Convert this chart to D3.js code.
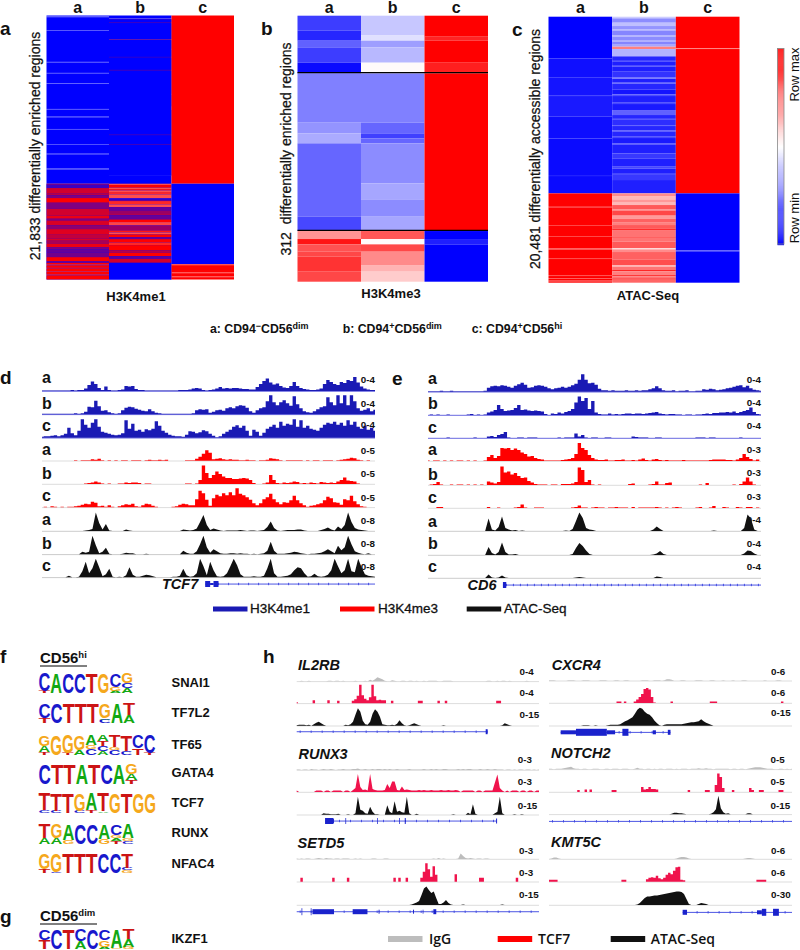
<!DOCTYPE html>
<html>
<head>
<meta charset="utf-8">
<script src="https://cdn.jsdelivr.net/npm/d3@7"></script>
<style>
html, body { margin: 0; padding: 0; background: #fff; overflow: hidden; }
text { font-family: "Liberation Sans", Arial, sans-serif; fill: #111; }
</style>
</head>
<body>
<script>
// heatmap rows: [first row, value]; value -1 = row min, 1 = row max
let hmA_a = [[0,-1],[3,-.75],[5,-1],[44,-.8],[46,-1],[139,-.8],[141,-1],[172,-.85],[174,-1],[203,-.75],[205,-1],[280,-.75],[282,-1],[303,-.85],[305,-1],[340,-.8],[342,-1],[385,-.8],[387,-1],[414,-.85],[416,-1],[458,-.85],[462,-1]];
let hmA_b = [[0,-1],[8,-.8],[10,-1],[72,-.7],[74,-1],[100,-.7],[102,-1],[235,-.6],[237,-1],[273,-.6],[283,-1],[480,-1]];
let hmA_bMixTop = [[10,.35],[12,0],[21,.45],[23,0],[71,.55],[73,0],[124,.45],[126,0],[163,.6],[165,0],[357,.5],[359,0],[385,.55],[387,0]];
let hmA_c = [[0,1],[504,-1],[745,.75],[748,1],[770,.8],[772,1],[782,.8],[784,1]];
// blended rows: 0 blue, 1 red, 2 pale red
let hmA_aMix = [[504,.75],[507,.25],[517,.82],[534,.72],[539,.5],[547,1],[561,.5],[579,.82],[599,.92],[609,.5],[614,.85],[629,.55],[640,.88],[657,.76],[669,.85],[675,.65],[683,.92],[694,.5],[701,.4],[711,.45],[724,1],[737,.3],[741,1]];
let hmA_bMix = [[504,1.4],[508,1],[516,1.4],[520,1.1],[524,1.4],[529,1.2],[536,1.4],[548,.15],[552,.4],[556,1.2],[566,1.4],[574,.4],[584,.6],[592,.68],[599,.4],[611,1],[619,1.35],[629,.6],[644,1.1],[650,1.4],[656,1],[664,.4],[670,1],[680,1.2],[688,1.0],[704,.7],[711,1],[721,.35],[729,.82],[741,0]];
let hmA_aTail = [[741,1],[746,1.3],[749,1],[756,1.3],[758,1],[766,1.3],[768,1],[776,1.3],[779,1]];

let hmB_a = [[0,-.76],[45,-.85],[75,-.62],[95,-.76],[141,-.96],[173,-.5],[321,-.42],[353,-.33],[383,-.6],[603,-.72],[646,.42],[670,.92],[686,.68],[708,.72],[723,.8],[768,.72]];
let hmB_b = [[0,-.22],[58,-.12],[75,-.38],[95,-.28],[141,.02],[173,-.5],[321,-.6],[353,-.75],[368,-.6],[383,-.45],[503,-.35],[551,-.45],[603,-.35],[646,.66],[670,.02],[686,.72],[708,.46],[748,.3],[768,.2]];
let hmB_c = [[0,1],[63,.86],[75,1],[141,.88],[173,1],[646,-1],[670,-.88],[686,-1]];

let hmC_a = [[0,-1],[125,-.94],[181,-1],[183,-.92],[236,-.95],[238,-.9],[300,-.95],[364,-.9],[366,-.96],[475,-.9],[478,-.96],[530,1],[568,.82],[572,1],[625,.9],[627,1],[658,.88],[660,1],[695,.75],[699,1],[725,.9],[727,1],[775,.7],[778,1],[784,.7],[786,1],[792,.7],[794,1]];
let hmC_b = [[0,-.2],[5,-.45],[18,-.25],[28,-.42],[38,-.32],[42,-.48],[55,-.3],[60,-.45],[70,-.32],[75,-.48],[84,-.35],[90,.5],[97,-.3],[119,-.85],[130,-.75],[134,-.88],[145,-.72],[150,-.88],[165,-.8],[183,-.5],[186,-.88],[198,-.62],[201,-.85],[218,-.92],[233,-.7],[238,-.88],[258,-.72],[262,-.9],[280,-.62],[295,-.85],[305,-.97],[308,-.82],[325,-.62],[328,-.85],[340,-.6],[344,-.85],[360,-.72],[364,-.9],[380,-.75],[384,-.88],[410,-.78],[425,-.88],[450,-.72],[456,-.88],[470,-.95],[474,-.78],[490,-.88],[530,.45],[538,.28],[548,.4],[558,.28],[565,.65],[578,.5],[582,.72],[596,.55],[600,.4],[606,.62],[618,.5],[625,.65],[635,.82],[640,.55],[660,.92],[663,.55],[675,.65],[695,.1],[698,.45],[706,.62],[728,.7],[745,.3],[750,.55],[760,.88],[764,.5],[775,.8],[779,.55],[785,.9],[789,.6]];
let hmC_c = [[0,1],[94,.5],[97,1],[530,-1],[701,-.72],[704,-1]];

let hmLetters = ['a', 'b', 'c'];
let hmTitles = ['H3K4me1', 'H3K4me3', 'ATAC-Seq'];
let hmLabels = ['21,833 differentially enriched regions', '312\u00a0\u00a0differentially enriched regions', '20,481 differentially accessible regions'];

// browser tracks, one signal value per genome bin
let dBlueA = [1,1,1,1,1,1,1,1,1,2, 1,2,2,5,12,19,14,6,2,9, 2,1,1,2,3,10,9,10,4,2, 2,1,1,1,1,1,1,1,1,1, 1,2,2,2,3,5,6,5,2,1, 2,3,5,8,5,6,5,6,6,5, 4,4,3,3,8,14,20,25,17,13, 15,10,7,6,10,18,10,6,4,3, 2,2,3,5,14,22,18,14,12,18, 16,22,20,28,17,9,5,3,2,2];
let dBlueB = [1,1,1,1,1,1,1,1,1,1, 2,1,2,5,15,14,27,16,7,8, 4,2,1,2,8,13,15,14,11,9, 7,6,10,6,3,2,1,1,1,1, 1,1,1,1,1,2,8,10,9,10, 3,5,8,9,7,12,14,12,16,18, 17,13,6,3,8,12,14,26,38,24, 18,24,28,22,17,36,20,12,6,4, 3,6,10,14,16,34,24,18,38,22, 38,18,38,26,12,7,9,12,6,9];
let dBlueC = [2,3,3,4,5,3,5,8,20,9, 5,14,37,26,20,30,37,22,12,10, 8,6,5,6,9,35,18,28,14,16, 12,17,15,18,33,24,14,10,6,4, 3,3,2,6,13,12,9,11,15,13, 8,4,1,3,8,12,16,22,25,20, 24,14,4,16,12,4,10,18,22,26, 20,32,24,28,26,37,22,35,20,24, 18,16,14,20,26,30,28,32,26,30, 24,35,26,32,22,18,24,16,20,14];
let dRedA = [0,0,0,0,0,0,0,0,0,0, 1,0,1,1,1,3,2,4,1,0, 1,0,1,0,1,1,0,1,1,1, 0,1,2,1,1,2,1,2,0,0, 0,0,0,1,1,1,4,8,14,21, 16,3,4,5,3,2,3,2,2,1, 1,2,1,1,0,1,1,2,5,4, 3,1,0,1,1,1,1,1,0,1, 0,1,1,0,1,1,1,0,1,2, 3,4,6,5,2,1,0,1,0,0];
let dRedB = [0,0,0,0,0,0,0,0,0,0, 0,0,0,1,2,3,5,3,1,0, 1,0,0,1,1,3,2,3,3,2, 0,1,1,0,0,0,0,0,0,0, 0,0,0,1,1,0,1,8,37,22, 12,18,25,20,15,12,12,10,10,11, 12,11,8,2,0,0,1,3,18,8, 2,1,3,2,3,5,4,1,2,1, 3,2,1,4,3,2,3,2,5,8, 13,7,6,5,1,0,0,0,0,0];
let dRedC = [0,1,0,2,1,0,1,0,1,1, 2,3,5,7,6,11,9,2,3,1, 4,1,0,2,4,6,5,7,2,1, 4,7,6,3,1,0,0,0,0,1, 2,5,7,6,4,4,16,33,28,15, 3,18,25,22,28,24,30,24,38,27, 24,20,15,8,4,8,16,20,27,16, 10,6,10,9,14,23,14,8,4,1, 3,4,6,8,14,21,18,10,9,5, 16,14,23,12,6,2,1,0,0,0];
let dBlackA = [0,0,0,0,0,0,0,0,0,0, 0,0,0,1,2,4,37,16,3,14, 1,0,0,0,0,3,1,0,0,0, 0,0,0,0,0,0,0,0,0,0, 0,0,3,2,1,2,5,18,32,12, 2,5,3,1,0,1,1,1,1,2, 1,0,1,1,0,1,2,8,19,6, 1,0,1,2,2,2,3,3,1,0, 0,0,0,2,4,7,3,1,9,4, 12,37,18,6,3,2,1,0,0,0];
let dBlackB = [0,0,0,0,0,0,0,0,0,0, 0,0,5,3,5,37,18,2,5,13, 1,0,0,0,1,3,2,2,0,0, 0,1,0,0,0,0,0,0,0,0, 0,0,7,3,1,1,6,20,37,14, 3,10,6,2,1,1,2,2,1,2, 1,1,0,1,0,1,2,7,25,7, 1,1,1,2,3,5,4,2,1,0, 1,1,2,3,6,10,6,2,17,8, 14,37,20,6,3,1,0,2,0,0];
let dBlackC = [0,0,0,0,0,0,0,0,3,0, 0,1,12,31,8,18,37,20,2,6, 17,1,0,1,0,4,20,5,1,1, 3,5,4,2,0,0,0,0,0,1, 1,3,17,4,1,2,8,37,22,4, 31,14,2,1,2,8,22,37,24,6, 1,1,1,2,1,1,3,18,37,8, 1,1,2,3,6,14,20,18,8,1, 2,7,2,1,2,5,14,37,22,8, 14,37,12,10,37,20,6,3,2,1];

let eBlueA = [1,1,1,1,2,1,1,2,1,1, 1,1,1,1,1,1,1,2,8,11, 12,11,13,12,10,8,12,15,18,14, 8,9,12,13,12,10,7,5,7,8, 10,8,10,13,16,24,35,24,17,18, 14,6,3,3,2,3,2,2,2,3, 2,2,3,2,3,3,5,7,11,7, 3,2,2,3,1,2,2,3,1,1, 2,2,5,4,6,5,3,4,5,7, 8,10,12,13,9,12,7,4,3,2];
let eBlueB = [0,1,0,1,0,0,1,0,0,0, 0,0,1,2,0,1,0,1,5,7, 10,20,12,8,9,10,14,20,10,11, 9,8,9,8,7,2,0,3,2,5, 3,6,8,12,25,37,28,34,12,28, 5,2,1,1,3,1,2,1,2,3, 3,2,3,3,2,3,4,5,6,3, 2,1,2,2,1,1,0,1,1,0, 1,1,2,3,2,4,4,5,5,6, 5,7,4,6,8,10,15,6,2,1];
let eBlueC = [0,0,0,0,0,0,1,0,0,0, 0,0,0,0,1,0,0,0,3,4, 2,6,8,12,1,0,0,1,1,0, 1,1,1,0,0,0,0,0,0,1, 0,1,1,1,9,3,6,1,0,1, 1,0,0,1,1,0,0,0,0,0, 0,3,2,1,1,1,0,0,1,1, 0,0,0,0,0,0,0,0,0,0, 1,1,1,0,1,1,0,0,0,0, 0,0,0,1,0,0,0,0,0,0];
let eRedA = [1,0,1,1,0,1,0,1,0,1, 1,0,1,0,1,0,0,1,8,12, 6,10,26,25,26,22,25,22,17,14, 9,10,6,4,3,1,1,1,1,1, 2,3,4,6,14,36,26,22,12,6, 3,2,2,3,1,1,2,2,3,1, 1,2,1,3,5,2,1,3,4,2, 1,2,1,1,1,1,2,1,1,1, 1,1,1,1,2,3,3,3,3,2, 2,1,3,6,14,8,4,1,3,0];
let eRedB = [0,1,2,6,1,0,0,1,0,1, 1,0,1,0,1,0,1,0,7,5, 3,6,37,25,27,21,24,18,14,15, 8,5,2,1,1,1,0,1,1,0, 2,2,2,3,6,35,30,6,10,1, 0,1,0,0,0,0,0,0,0,0, 2,3,0,0,0,0,1,2,7,1, 1,4,5,0,0,0,0,0,0,0, 0,1,0,4,0,0,0,0,0,0, 0,1,0,2,7,15,7,1,0,0];
let eRedC = [0,0,0,2,2,0,0,0,0,0, 0,0,0,0,0,0,0,0,2,0, 0,1,0,0,0,0,1,2,7,1, 0,0,1,1,1,0,0,0,0,0, 0,0,0,1,2,5,1,1,0,1, 2,1,1,0,1,1,2,1,1,1, 0,2,0,1,1,1,1,1,2,1, 0,1,0,1,2,1,0,0,0,0, 1,2,0,0,1,4,0,0,2,1, 0,0,2,1,0,2,2,0,1,0];
let eBlackA = [0,0,0,0,0,0,0,0,0,0, 0,0,0,0,0,0,0,0,25,3, 1,8,29,6,3,1,2,0,1,0, 0,0,0,0,0,0,0,0,0,0, 0,1,0,4,20,37,26,6,3,2, 0,0,0,0,0,0,0,0,0,0, 0,0,0,0,0,0,0,3,9,4, 0,0,0,0,0,0,0,0,0,0, 0,0,0,0,0,1,0,0,0,0, 0,0,0,0,6,33,25,3,0,0];
let eBlackB = [0,0,0,0,0,0,0,0,0,0, 0,0,0,0,0,0,0,0,16,4, 1,6,25,6,1,1,2,0,0,0, 0,0,0,0,0,0,0,0,0,0, 0,0,0,2,14,24,18,9,2,0, 0,0,0,0,0,0,0,0,0,0, 0,0,0,0,0,0,0,1,3,8, 2,0,0,0,0,0,0,0,0,0, 0,0,0,0,0,0,0,0,0,0, 0,0,0,0,3,9,8,3,0,0];
let eBlackC = [0,0,0,0,0,0,0,0,0,0, 0,0,0,0,0,0,0,0,7,1, 0,1,5,1,0,0,0,0,0,0, 0,0,0,0,0,0,0,0,0,0, 0,0,0,0,1,2,1,0,0,0, 0,0,0,0,0,0,0,0,0,0, 0,0,0,0,0,0,0,0,3,2, 0,0,0,0,0,0,0,0,0,0, 0,0,0,0,0,0,0,0,0,0, 0,0,0,0,0,0,0,0,0,0];

let dRanges = ['0-4','0-4','0-4','0-5','0-5','0-5','0-8','0-8','0-8'];
let eRanges = ['0-4','0-4','0-4','0-3','0-3','0-3','0-4','0-4','0-4'];
let trackLetters = ['a','b','c','a','b','c','a','b','c'];
let browserLegend = ['H3K4me1', 'H3K4me3', 'ATAC-Seq'];

// motifs: one entry per position, letters stacked bottom to top with their share
let motifNames = ['SNAI1','TF7L2','TF65','GATA4','TCF7','RUNX','NFAC4','IKZF1'];
let snai1 = [[['T',.1],['C',.9]],[['A',1]],[['C',1]],[['C',1]],[['T',1]],[['G',1]],[['A',.12],['G',.2],['C',.68]],[['A',.25],['C',.25],['G',.5]]];
let tf7l2 = [[['T',.25],['C',.75]],[['C',1]],[['T',1]],[['T',1]],[['T',1]],[['C',.18],['A',.07],['G',.75]],[['A',1]],[['A',.4],['T',.6]]];
let tf65 = [[['T',.15],['A',.3],['G',.55]],[['G',1]],[['T',.1],['G',.9]],[['A',.25],['G',.75]],[['C',.3],['G',.2],['A',.5]],[['A',.2],['C',.25],['T',.25],['A',.3]],[['C',.25],['G',.15],['T',.6]],[['C',.2],['T',.8]],[['T',.35],['C',.65]],[['T',.1],['C',.9]]];
let gata4 = [[['C',1]],[['T',1]],[['T',1]],[['A',1]],[['T',1]],[['C',1]],[['A',1]],[['T',.2],['A',.3],['G',.5]]];
let tcf7 = [[['C',.15],['T',.85]],[['C',.12],['T',.88]],[['T',1]],[['C',.12],['G',.88]],[['T',.15],['A',.85]],[['A',.08],['T',.92]],[['G',1]],[['T',1]],[['G',1]],[['G',1]]];
let runx = [[['A',.3],['T',.7]],[['A',.3],['G',.7]],[['G',.2],['A',.8]],[['C',1]],[['C',1]],[['G',.25],['A',.75]],[['T',.15],['A',.15],['G',.15],['C',.55]],[['C',.15],['G',.15],['A',.7]]];
let nfac4 = [[['T',.2],['G',.8]],[['C',.07],['G',.93]],[['T',1]],[['T',1]],[['T',1]],[['C',1]],[['C',1]],[['G',.15],['C',.1],['T',.75]]];
let ikzf1 = [[['T',.45],['C',.55]],[['C',1]],[['T',1]],[['A',.4],['C',.6]],[['C',1]],[['A',.1],['G',.35],['C',.55]],[['G',.05],['A',.95]],[['G',.12],['A',.38],['T',.5]]];

// panel h tracks
let il2rbIgg = [0,0,1,0,0,1,0,0,0,0, 0,0,0,1,1,0,1,1,0,1, 0,0,0,0,1,0,0,0,1,0, 3,1,4,8,6,4,1,0,0,2, 1,0,0,1,1,0,1,1,0,1, 0,0,1,0,1,1,1,1,0,0, 1,1,1,1,0,0,0,0,0,0, 0,0,0,0,0,0,0,0,1,1, 0,0,1,0,1,1,0,1,0,0, 0,0,0,0,1,0,0,0,0,0];
let il2rbTcf = [2,0,0,0,0,0,0,6,0,0, 0,0,0,6,0,0,0,5,0,0, 0,0,0,5,8,15,37,16,9,6, 12,37,14,6,7,6,6,0,0,5, 0,0,0,0,0,0,0,0,0,0, 5,5,0,0,0,0,0,0,5,0, 0,5,0,0,0,0,0,0,0,0, 0,0,0,0,0,0,0,0,0,0, 0,0,5,5,0,0,0,0,0,0, 0,0,0,0,0,0,0,0,0,0];
let il2rbAtac = [1,2,2,2,1,2,0,3,6,8, 5,2,0,0,0,0,0,0,0,0, 2,1,3,8,22,35,28,10,3,2, 8,24,33,28,18,3,2,1,1,2, 1,4,11,5,1,0,1,3,5,3, 1,0,0,0,0,0,0,0,0,0, 1,0,0,0,0,0,0,0,0,0, 0,0,0,0,0,0,0,0,0,0, 0,0,0,0,1,5,3,1,0,0, 0,0,0,0,0,0,0,0,0,0];
let runxIgg = [1,1,0,1,1,0,2,1,1,0, 1,2,1,1,2,1,0,1,1,2, 1,1,1,2,2,3,1,1,2,1, 1,2,1,2,2,1,2,1,2,1, 1,2,1,1,1,1,2,1,1,1, 1,1,2,1,1,2,1,2,1,1, 2,2,1,1,1,1,2,1,2,1, 2,2,1,1,1,2,1,1,2,1, 1,2,1,1,1,0,1,1,0,1, 0,1,1,0,1,1,0,1,0,1];
let runxTcf = [3,0,0,0,0,0,0,0,3,3, 3,0,3,3,0,3,3,3,3,0, 3,3,0,4,8,36,10,4,5,3, 36,6,4,3,3,3,4,16,8,21, 21,4,3,11,4,5,4,3,3,3, 4,3,4,3,3,4,3,3,3,4, 3,3,4,3,3,4,3,0,3,3, 3,3,3,0,3,3,0,3,3,3, 3,19,35,8,3,0,3,0,3,3, 3,0,3,3,0,3,3,0,3,3];
let runxAtac = [0,0,0,0,0,0,0,0,0,0, 0,3,2,2,1,1,1,2,0,0, 0,1,0,0,3,36,10,8,3,2, 16,6,1,1,0,0,0,19,6,3, 27,6,8,5,4,36,3,0,0,2, 0,0,0,0,0,0,0,0,0,0, 0,0,0,0,1,0,0,0,0,0, 4,1,21,2,0,0,0,0,0,0, 0,3,6,36,3,0,0,0,0,1, 0,0,1,0,0,0,0,0,0,0];
let setdIgg = [1,0,1,0,1,1,0,0,1,2, 1,0,2,1,1,0,1,1,0,1, 1,1,0,0,1,0,1,0,0,0, 0,1,1,0,0,0,1,1,0,0, 0,0,0,0,0,0,0,0,0,0, 0,0,0,0,0,0,1,0,2,0, 1,0,0,0,0,0,1,11,6,2, 1,2,1,0,1,1,0,1,1,0, 0,0,0,0,0,0,0,0,0,0, 0,0,0,0,0,0,0,0,0,0];
let setdTcf = [0,0,8,0,0,0,0,0,0,0, 0,0,0,0,0,8,0,0,0,0, 0,8,0,0,0,0,0,0,0,0, 0,0,0,0,0,0,0,0,0,0, 8,0,8,0,0,8,0,0,0,0, 0,8,20,37,25,10,31,14,0,0, 0,0,0,0,0,15,0,0,0,0, 0,0,0,0,0,8,8,0,0,0, 0,0,0,0,0,0,0,0,0,0, 8,0,0,0,0,0,0,0,0,0];
let setdAtac = [0,0,0,0,0,0,0,0,0,0, 0,0,0,0,0,0,0,0,0,0, 0,0,0,0,0,0,0,0,0,0, 0,0,0,0,0,0,0,0,0,0, 0,0,0,0,0,0,0,1,3,5, 8,20,33,37,30,24,27,14,2,2, 5,10,4,1,0,0,0,0,1,0, 0,0,0,0,0,0,0,0,0,0, 0,0,0,0,1,0,0,0,0,0, 0,0,0,0,0,0,0,0,0,0];
let cxcrIgg = [1,1,1,0,0,0,0,0,1,1, 1,0,0,0,1,1,1,0,0,0, 0,1,1,1,0,0,0,1,1,0, 0,1,1,0,0,0,0,0,1,1, 1,0,0,1,1,1,0,1,3,3, 2,0,0,0,1,1,0,0,0,0, 1,1,1,0,0,0,1,1,0,0, 0,1,0,0,0,1,0,0,0,1, 1,0,0,0,0,0,0,0,1,0, 0,0,0,1,1,0,0,0,0,0];
let cxcrTcf = [0,0,0,0,0,0,0,0,0,0, 0,0,0,0,0,0,0,0,0,0, 0,0,0,0,0,0,0,0,3,3, 0,3,0,0,0,3,7,12,18,28, 30,27,12,1,0,0,0,0,0,0, 3,0,0,0,0,0,0,0,0,0, 0,0,0,0,0,0,3,3,3,0, 0,0,0,0,0,0,0,0,0,0, 0,0,0,0,0,0,0,0,0,0, 0,0,0,0,0,3,0,0,0,0];
let cxcrAtac = [0,0,0,0,0,0,0,0,0,0, 0,0,0,0,1,1,1,0,0,1, 0,0,0,0,1,2,2,2,2,3, 6,9,11,14,17,24,32,36,34,28, 24,22,17,10,5,1,0,2,3,3, 3,3,3,3,3,4,5,6,7,7, 8,9,13,9,6,4,2,0,0,0, 0,0,0,0,0,0,0,0,0,0, 0,0,0,0,0,0,0,0,0,0, 0,0,0,0,0,0,0,0,0,0];
let notchIgg = [1,1,0,1,1,1,2,3,4,5, 2,1,1,0,1,1,0,0,1,1, 1,0,0,1,1,0,1,1,1,0, 1,1,1,0,0,1,3,1,1,0, 1,1,0,1,0,1,1,0,1,1, 1,0,1,0,1,1,1,0,1,1, 1,2,1,1,2,1,1,0,1,1, 1,1,1,1,0,1,1,0,1,1, 0,1,2,3,4,4,4,3,2,1, 1,1,0,0,1,1,0,1,0,1];
let notchTcf = [0,0,0,0,0,0,0,0,0,0, 0,0,4,0,0,5,0,5,0,0, 0,0,0,0,0,0,4,4,0,0, 0,0,0,0,0,0,0,0,10,5, 6,10,6,6,5,0,0,0,0,0, 0,0,0,0,0,0,0,4,0,0, 0,0,0,0,4,4,0,0,14,37, 30,8,0,0,0,4,0,0,0,0, 0,0,8,4,0,0,4,4,0,0, 0,0,0,0,4,4,0,0,0,0];
let notchAtac = [0,0,0,0,0,0,0,0,0,0, 0,0,0,0,0,0,0,0,0,0, 0,0,0,0,0,0,0,0,0,0, 0,0,0,0,0,0,0,0,0,0, 0,0,0,0,0,0,0,0,0,0, 1,3,3,2,2,1,0,0,0,0, 0,0,0,0,0,0,1,4,10,37, 12,4,1,2,0,0,0,0,0,0, 0,2,2,0,0,0,0,0,0,0, 0,0,0,0,0,0,0,0,0,0];
let kmtIgg = [0,1,3,3,1,0,0,0,0,0, 0,0,0,0,0,0,0,0,0,0, 0,0,0,0,0,0,0,0,0,0, 0,0,0,0,0,0,0,0,0,0, 0,0,0,0,0,0,0,0,0,0, 0,0,1,3,4,4,3,1,0,0, 0,0,0,0,0,0,0,0,0,0, 0,0,0,0,0,0,0,0,0,0, 1,2,2,1,0,0,0,0,0,0, 0,0,0,0,0,0,0,0,0,0];
let kmtTcf = [4,4,4,4,0,0,0,0,0,0, 0,0,0,0,0,0,0,0,0,0, 0,0,0,0,0,0,0,0,0,0, 4,4,0,0,0,0,0,0,0,0, 5,8,9,8,12,7,5,8,14,18, 15,22,29,30,4,3,0,0,0,0, 0,0,0,0,0,0,0,0,0,0, 0,0,0,0,0,0,0,0,0,0, 0,0,0,0,0,4,4,4,4,0, 0,0,0,0,0,0,0,0,0,0];
let kmtAtac = [0,0,0,0,0,0,0,0,0,0, 0,0,0,0,0,0,0,0,0,0, 0,0,0,0,0,0,0,0,0,0, 0,0,0,0,0,0,1,4,9,14, 17,17,18,19,19,20,21,22,23,24, 25,26,27,27,26,22,12,2,0,0, 0,2,4,3,2,0,0,0,0,0, 0,0,0,0,0,0,0,0,0,0, 0,0,0,0,0,0,0,0,0,0, 0,0,0,0,0,0,0,0,0,0];

let hGenes = ['IL2RB','RUNX3','SETD5','CXCR4','NOTCH2','KMT5C'];
let hRanges = [['0-4','0-4','0-15'],['0-3','0-3','0-15'],['0-3','0-3','0-15'],['0-6','0-6','0-15'],['0-5','0-5','0-15'],['0-6','0-6','0-30']];
let hLegend = ['IgG', 'TCF7', 'ATAC-Seq'];

// gene models in percent of the track: [start, end, thickness]
let il2rbModel = {span: [0, 78.5], exons: [[78, 78.8, 5]]};
let runxModel = {span: [11.7, 82.6], exons: [[11.7, 15, 6], [15, 15.4, 5], [20.1, 20.4, 6], [33.2, 33.5, 6], [42.3, 42.6, 6], [44.6, 45, 6], [82.3, 82.7, 5]]};
let setdModel = {span: [0, 100], exons: [[2, 2.3, 7], [5.8, 6.1, 7], [6.5, 15.4, 5], [23.1, 29.2, 5], [33.8, 34.2, 4], [48, 48.4, 4], [52, 52.3, 4], [56.4, 57.6, 5]]};
let cxcrModel = {span: [4.8, 50], exons: [[4.8, 11.1, 4], [11.1, 23.8, 7], [23.8, 27.2, 4], [30.2, 32.7, 7], [42.7, 44, 4], [48.9, 50, 5]]};
let notchModel = {span: [0, 100], exons: []};
let kmtModel = {span: [55, 100], exons: [[55, 56.8, 5], [85.6, 87.6, 4], [87.6, 89.4, 7], [92.2, 94.6, 7]]};
let tcf7Model = {span: [49, 100], exons: [[49, 50.5, 6], [50.5, 51.5, 2], [51.5, 53, 6]]};
let cd6Model = {span: [22.5, 100], exons: [[22.5, 23.5, 6]]};

const W = 800, H = 950;
const RED = '#ff0000', BLUE = '#0000ff';
const DARKBLUE = '#1a1ab4', BLACK = '#111111', HRED = '#f0134c', IGG = '#bdbdbd';

let svg = d3.select('body').append('svg').attr('width', W).attr('height', H).style('display', 'block');

let rowColor = d3.scaleLinear().domain([-1, 0, 1]).range([BLUE, '#ffffff', RED]);
let mixColor = d3.scaleLinear().domain([0, 1, 2]).range([BLUE, RED, '#ffc4c4']);

function label(x, y, str, size, weight, anchor) {
    return svg.append('text').attr('x', x).attr('y', y).attr('dominant-baseline', 'central')
        .attr('font-size', size).attr('font-weight', weight || 'normal').attr('text-anchor', anchor || 'start').text(str);
}

function panelLetter(x, y, str) {
    label(x, y, str, 19, 'bold');
}

// ---- heatmaps ----
function heatColumn(g, rows, x, width, y, total, scale) {
    g.selectAll(null).data(rows).join('rect')
        .attr('x', x).attr('width', width)
        .attr('y', d => y(d[0]))
        .attr('height', (d, i) => y(i < rows.length - 1 ? rows[i + 1][0] : total) - y(d[0]))
        .attr('fill', d => scale(d[1]));
}

function heatmap(x0, x1, y0, y1, total) {
    let g = svg.append('g');
    let x = d3.scaleBand().domain(hmLetters).range([x0, x1]);
    let y = d3.scaleLinear().domain([0, total]).range([y0, y1]);
    return {g, x, y, total};
}

let hmA = heatmap(46.5, 234, 15.5, 279.5, 791);
heatColumn(hmA.g, hmA_a.concat([[504, -1]]), hmA.x('a'), hmA.x.bandwidth(), hmA.y, 791, rowColor);
heatColumn(hmA.g, hmA_aMix, hmA.x('a'), hmA.x.bandwidth(), hmA.y, 741, mixColor);
heatColumn(hmA.g, hmA_aTail, hmA.x('a'), hmA.x.bandwidth(), hmA.y, 791, mixColor);
heatColumn(hmA.g, hmA_b, hmA.x('b'), hmA.x.bandwidth(), hmA.y, 791, rowColor);
heatColumn(hmA.g, hmA_bMixTop, hmA.x('b'), hmA.x.bandwidth(), hmA.y, 480, mixColor);
heatColumn(hmA.g, hmA_bMix, hmA.x('b'), hmA.x.bandwidth(), hmA.y, 791, mixColor);
heatColumn(hmA.g, hmA_c, hmA.x('c'), hmA.x.bandwidth(), hmA.y, 791, rowColor);

let hmB = heatmap(297.5, 488, 15.7, 281.7, 798);
heatColumn(hmB.g, hmB_a, hmB.x('a'), hmB.x.bandwidth(), hmB.y, 798, rowColor);
heatColumn(hmB.g, hmB_b, hmB.x('b'), hmB.x.bandwidth(), hmB.y, 798, rowColor);
heatColumn(hmB.g, hmB_c, hmB.x('c'), hmB.x.bandwidth(), hmB.y, 798, rowColor);
[171, 644].forEach(r => {
    svg.append('line').attr('x1', 297.5).attr('x2', 488).attr('y1', hmB.y(r)).attr('y2', hmB.y(r)).attr('stroke', '#000').attr('stroke-width', 1.3);
});

let hmC = heatmap(548.5, 739.5, 16.7, 282.7, 798);
heatColumn(hmC.g, hmC_a, hmC.x('a'), hmC.x.bandwidth(), hmC.y, 798, rowColor);
heatColumn(hmC.g, hmC_b, hmC.x('b'), hmC.x.bandwidth(), hmC.y, 798, rowColor);
heatColumn(hmC.g, hmC_c, hmC.x('c'), hmC.x.bandwidth(), hmC.y, 798, rowColor);

[hmA, hmB, hmC].forEach((h, i) => {
    hmLetters.forEach(l => {
        label(h.x(l) + h.x.bandwidth() / 2, 7.5, l, 16, 'bold', 'middle');
    });
    let cx = [136, 391, 648][i], ty = [296, 293, 295][i];
    label(cx, ty, hmTitles[i], 13, 'bold', 'middle');
    let rx = [35, 286, 535][i], ry = [146, 149, 149][i];
    svg.append('text').attr('transform', `translate(${rx},${ry}) rotate(-90)`)
        .attr('text-anchor', 'middle').attr('dominant-baseline', 'central')
        .attr('font-size', 14).attr('stroke', '#111').attr('stroke-width', 0.25).text(hmLabels[i]);
});

panelLetter(0, 28, 'a');
panelLetter(261, 28, 'b');
panelLetter(512, 29, 'c');

// colour bar
let barY = d3.scaleLinear().domain([1, -1]).range([48.5, 244]);
svg.append('g').selectAll('rect').data(d3.range(-1, 1.001, 0.01)).join('rect')
    .attr('x', 777.5).attr('width', 6.5).attr('y', d => barY(d)).attr('height', 1.2).attr('fill', d => rowColor(d));
svg.append('rect').attr('x', 777.5).attr('y', 48.5).attr('width', 6.5).attr('height', 195.5).attr('fill', 'none').attr('stroke', '#888').attr('stroke-width', 0.8);
svg.append('text').attr('transform', 'translate(794,74.5) rotate(-90)').attr('text-anchor', 'middle').attr('dominant-baseline', 'central').attr('font-size', 13).text('Row max');
svg.append('text').attr('transform', 'translate(794,218) rotate(-90)').attr('text-anchor', 'middle').attr('dominant-baseline', 'central').attr('font-size', 13).text('Row min');

// group key under the heatmaps
function groupKey(x, parts) {
    let t = svg.append('text').attr('x', x).attr('y', 332.5).attr('font-size', 12.3).attr('font-weight', 'bold');
    parts.forEach(p => {
        t.append('tspan').attr('dy', p[1] ? -4 : (p[2] ? 4 : 0)).attr('font-size', p[1] ? 9 : 12.3).text(p[0]);
    });
}
groupKey(210, [['a: CD94'], ['\u2212', 1], ['CD56', 0, 1], ['dim', 1]]);
groupKey(342.7, [['b: CD94'], ['+', 1], ['CD56', 0, 1], ['dim', 1]]);
groupKey(471.7, [['c: CD94'], ['+', 1], ['CD56', 0, 1], ['hi', 1]]);

// ---- browser tracks ----
function track(vals, x0, x1, base, color, lineColor, curve) {
    let x = d3.scaleLinear().domain([0, vals.length - 1]).range([x0, x1]);
    let y = d3.scaleLinear().domain([0, 40]).range([base, base - 20]);
    let area = d3.area().x((d, i) => x(i)).y0(base).y1(d => y(d)).curve(curve || d3.curveLinear);
    svg.append('line').attr('x1', x0).attr('x2', x1).attr('y1', base + 0.3).attr('y2', base + 0.3).attr('stroke', lineColor).attr('stroke-width', 1);
    svg.append('path').datum(vals).attr('d', area).attr('fill', color);
}

function geneModel(model, x0, x1, yc, tickStep) {
    let x = d3.scaleLinear().domain([0, 100]).range([x0, x1]);
    let g = svg.append('g').attr('fill', '#1a22cc').attr('stroke', 'none');
    g.append('rect').attr('x', x(model.span[0])).attr('width', x(model.span[1]) - x(model.span[0])).attr('y', yc - 0.4).attr('height', 0.9).attr('fill', '#3a44e0');
    g.selectAll('.tick').data(d3.range(x(model.span[0]) + 3, x(model.span[1]), tickStep)).join('rect')
        .attr('x', d => d).attr('y', yc - 1.2).attr('width', 0.9).attr('height', 2.4).attr('fill', '#3a44e0');
    g.selectAll('.exon').data(model.exons).join('rect')
        .attr('x', d => x(d[0])).attr('width', d => x(d[1]) - x(d[0]))
        .attr('y', d => yc - d[2] / 2).attr('height', d => d[2]);
}

let dTracks = [dBlueA, dBlueB, dBlueC, dRedA, dRedB, dRedC, dBlackA, dBlackB, dBlackC];
let eTracks = [eBlueA, eBlueB, eBlueC, eRedA, eRedB, eRedC, eBlackA, eBlackB, eBlackC];
let trackColor = [DARKBLUE, DARKBLUE, DARKBLUE, RED, RED, RED, BLACK, BLACK, BLACK];
let lineColor = ['#6a6ae0', '#6a6ae0', '#6a6ae0', '#ddd', '#ddd', '#ddd', '#ccc', '#ccc', '#ccc'];
let trackCurve = [d3.curveStep, d3.curveStep, d3.curveStep, d3.curveStep, d3.curveStep, d3.curveStep, d3.curveLinear, d3.curveLinear, d3.curveLinear];

let dBase = [391, 414.3, 437.7, 460.7, 484, 507.3, 531, 554.3, 577.3];
let dLetterY = [377, 403, 425, 449, 473, 495, 519, 543, 565];
let dRangeY = [379, 403, 424, 450, 473, 497, 520, 543, 566];
dTracks.forEach((vals, i) => {
    track(vals, 42, 375, dBase[i], trackColor[i], lineColor[i], trackCurve[i]);
    label(42, dLetterY[i], trackLetters[i], 16, 'bold');
    label(375, dRangeY[i], dRanges[i], 9.8, 'bold', 'end');
});
geneModel(tcf7Model, 42, 375, 584, 10);
label(162, 584, 'TCF7', 14.5, 'bold').attr('font-style', 'italic');

let eBase = [391.7, 415, 438, 461, 485, 508, 531, 555, 578];
let eLetterY = [378, 403, 427, 449, 474, 497, 521, 543, 566];
let eRangeY = [379, 402, 425, 449, 472, 496, 519, 543, 566];
eTracks.forEach((vals, i) => {
    track(vals, 428, 761, eBase[i], trackColor[i], lineColor[i], trackCurve[i]);
    label(428, eLetterY[i], trackLetters[i], 16, 'bold');
    label(761, eRangeY[i], eRanges[i], 9.8, 'bold', 'end');
});
geneModel(cd6Model, 428, 761, 585, 7);
label(467.5, 585, 'CD6', 14.5, 'bold').attr('font-style', 'italic');

panelLetter(0, 377, 'd');
panelLetter(392, 378, 'e');

[[213, DARKBLUE, 250], [340, RED, 378], [466.7, BLACK, 504]].forEach((d, i) => {
    svg.append('rect').attr('x', d[0]).attr('y', 606.5).attr('width', 34.5).attr('height', 5).attr('fill', d[1]);
    label(d[2], 608.5, browserLegend[i], 13.5, 'normal').attr('stroke', '#111').attr('stroke-width', 0.3);
});

// ---- motif logos ----
let logoColor = {A: '#12a812', C: '#1818cc', G: '#f5a81c', T: '#cc1414'};
let motifs = [snai1, tf7l2, tf65, gata4, tcf7, runx, nfac4, ikzf1];
let motifTop = [673.3, 703.3, 735, 764, 793, 824, 853, 929];
let motifWidth = [94.5, 96.5, 117, 99, 117.5, 95.5, 94.5, 96];
let motifLabelY = [682.7, 712.7, 744, 772, 802, 832.7, 863, 938];

motifs.forEach((m, i) => {
    let x = d3.scaleBand().domain(d3.range(m.length)).range([38.5, 38.5 + motifWidth[i]]);
    let y = d3.scaleLinear().domain([0, 1]).range([motifTop[i] + 20, motifTop[i]]);
    m.forEach((stack, p) => {
        let sum = 0;
        stack.forEach(s => {
            let bottom = y(sum), top = y(sum + s[1]);
            sum += s[1];
            let t = svg.append('text').attr('font-size', 100).attr('font-weight', 'bold')
                .style('fill', logoColor[s[0]]).text(s[0]);
            let w = t.node().getComputedTextLength();
            let sx = x.bandwidth() / w, sy = (bottom - top) / 72;
            t.attr('transform', `translate(${x(p)},${bottom}) scale(${sx},${sy})`);
        });
    });
    label(171.5, motifLabelY[i], motifNames[i], 13, 'bold');
});

panelLetter(0, 656, 'f');
panelLetter(0, 916, 'g');
panelLetter(263, 656, 'h');

svg.append('text').attr('x', 40).attr('y', 663).attr('font-size', 15).attr('font-weight', 'bold').text('CD56')
    .append('tspan').attr('dy', -5).attr('font-size', 9.5).text('hi');
svg.append('line').attr('x1', 40).attr('x2', 87).attr('y1', 666).attr('y2', 666).attr('stroke', '#000');
svg.append('text').attr('x', 40).attr('y', 921).attr('font-size', 15).attr('font-weight', 'bold').text('CD56')
    .append('tspan').attr('dy', -5).attr('font-size', 9.5).text('dim');
svg.append('line').attr('x1', 40).attr('x2', 97).attr('y1', 924).attr('y2', 924).attr('stroke', '#000');

// ---- panel h ----
let hTracks = [
    [il2rbIgg, il2rbTcf, il2rbAtac], [runxIgg, runxTcf, runxAtac], [setdIgg, setdTcf, setdAtac],
    [cxcrIgg, cxcrTcf, cxcrAtac], [notchIgg, notchTcf, notchAtac], [kmtIgg, kmtTcf, kmtAtac]
];
let hModels = [il2rbModel, runxModel, setdModel, cxcrModel, notchModel, kmtModel];
let hX0 = [296.7, 296.7, 296.7, 549, 549, 549];
let hX1 = [539, 539, 539, 792, 792, 792];
let hTitleY = [665, 754, 843, 665, 753, 842];
let hTitleX = [298, 298.5, 297.5, 551.7, 551, 551];
let hBase = [[681.3, 703.3, 725.7], [770, 792, 814.7], [859, 881.7, 905], [680.7, 703, 725.7], [769.3, 792, 814.3], [859, 881.7, 905]];
let hGeneY = [731.7, 821, 911.7, 732.3, 821.3, 912.3];
let hRangeX = [519.5, 517.7, 519, 771, 770.5, 771];
let hRangeY = [[671.7, 692.7, 714], [759, 781.7, 805.7], [850.7, 872.7, 894.7], [671.7, 692.3, 712.7], [759.3, 781.3, 805], [850, 872, 894]];
let hColor = [IGG, HRED, BLACK];

hTracks.forEach((set, i) => {
    label(hTitleX[i], hTitleY[i], hGenes[i], 14.5, 'bold').attr('font-style', 'italic');
    set.forEach((vals, j) => {
        // RUNX3 red track is narrow spikes, the others are blocks
        let curve = (j == 1 && i != 1) ? d3.curveStep : d3.curveLinear;
        track(vals, hX0[i], hX1[i], hBase[i][j], hColor[j], '#ddd', curve);
        label(hRangeX[i], hRangeY[i][j], hRanges[i][j], 9.8, 'bold');
    });
    geneModel(hModels[i], hX0[i], hX1[i], hGeneY[i], 11);
});

[[388, IGG, 429], [497.7, RED, 538], [610.7, BLACK, 650.7]].forEach((d, i) => {
    svg.append('rect').attr('x', d[0]).attr('y', 936).attr('width', 34.5).attr('height', 6).attr('fill', d[1]);
    label(d[2], 938, hLegend[i], 14, 600).style('font-family', '"Open Sans", sans-serif');
});
</script>
</body>
</html>
